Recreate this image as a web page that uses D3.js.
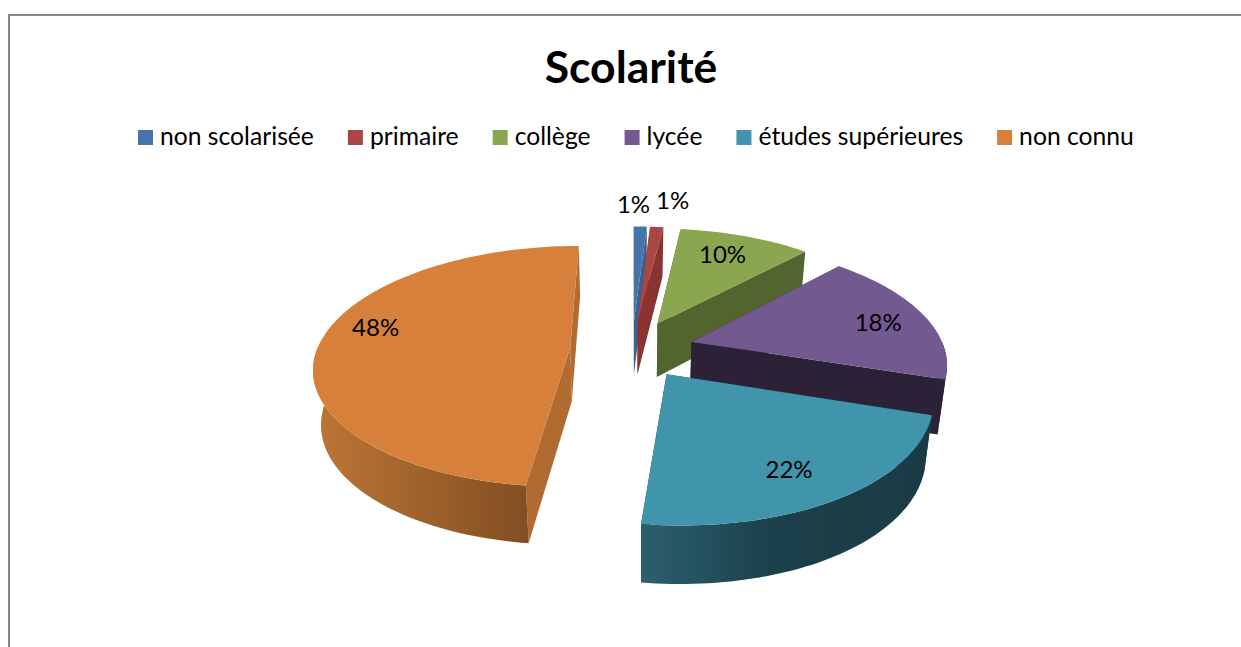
<!DOCTYPE html>
<html>
<head>
<meta charset="utf-8">
<style>
  html, body { margin: 0; padding: 0; background: #fff; overflow: hidden; }
  text { font-family: Lato, "Open Sans", sans-serif; fill: #000; }
</style>
<script src="https://d3js.org/d3.v7.min.js"></script>
</head>
<body>
<script>
const categories = ["non scolarisée", "primaire", "collège", "lycée", "études supérieures", "non connu"];
const values = [1, 1, 10, 18, 22, 48];
const topColors = ["#4674aa", "#aa4644", "#8aa64f", "#725990", "#4095ad", "#d7803c"];
const cutColors = ["#3a6192", "#8a3432", "#53652e", "#2c2238", "#1c404b", "#b16a2f"];
const wallFrom = ["#3a6192", "#8a3432", "#53652e", "#2c2238", "#2b606f", "#bd7636"];
const wallTo = ["#3a6192", "#8a3432", "#53652e", "#2c2238", "#1a3b46", "#824e22"];
// painter order, back to front
const drawOrder = [0, 1, 2, 3, 5, 4];

const width = 1241, height = 647;
const cx = 632, cy = 349;      // pie centre on screen
const rx = 253, ry = 118;      // world unit to pixels
const explode = 0.245;         // how far each slice is pulled out
const persp = 0.16;            // perspective strength
const depth = 54;              // wall height in px
// label shift from a point at 0.7 of the radius
const labelNudge = [[-5, -48], [21, -52], [1, -6], [23, 0], [7, 13], [-20, -14]];

const svg = d3.select("body").append("svg")
    .attr("width", width)
    .attr("height", height);

// frame of the chart, runs off the page on the right and bottom
svg.append("rect")
    .attr("x", 9).attr("y", 15)
    .attr("width", width + 20).attr("height", height + 20)
    .attr("fill", "#fff")
    .attr("stroke", "#868686")
    .attr("stroke-width", 2);

svg.append("text")
    .attr("x", 631)
    .attr("y", 83)
    .attr("text-anchor", "middle")
    .attr("font-size", 44.5)
    .attr("font-weight", 700)
    .text("Scolarité");

// legend, each item placed after the width of the one before
const legend = svg.append("g");
let legendX = 138;
categories.forEach(function(name, i) {
  legend.append("rect")
      .attr("x", legendX).attr("y", 130)
      .attr("width", 15).attr("height", 15)
      .attr("fill", topColors[i]);
  const label = legend.append("text")
      .attr("x", legendX + 22).attr("y", 145)
      .attr("font-size", 24.7)
      .text(name);
  legendX += 22 + label.node().getComputedTextLength() + 34;
});

const pie = d3.pie().sort(null).value(function(d) { return d; });
const slices = pie(values);

// slice local polar coords to screen; z 0 is the top face, 1 the bottom
function project(slice, angle, r, z) {
  const mid = (slice.startAngle + slice.endAngle) / 2;
  const X = explode * Math.sin(mid) + r * Math.sin(angle);
  const Y = -explode * Math.cos(mid) - r * Math.cos(angle);
  const f = 1 / (1 - persp * Y);
  const shrink = 1 - 0.025 * z;
  const lean = Y > 0 ? 5 * Y * Y : 0;
  return [
    cx + X * rx * f * shrink + lean,
    cy + Y * ry * f + z * depth * (1 + 0.07 * Y)
  ];
}

function arcPoints(slice, a0, a1, z) {
  const n = Math.max(4, Math.ceil((a1 - a0) * 40));
  return d3.range(n + 1).map(function(k) {
    return project(slice, a0 + (a1 - a0) * k / n, 1, z);
  });
}

const line = d3.line();
function closed(pts) { return line(pts) + "Z"; }

const defs = svg.append("defs");
slices.forEach(function(s, i) {
  const g = defs.append("linearGradient").attr("id", "wall" + i);
  g.append("stop").attr("offset", "0%").attr("stop-color", wallFrom[i]);
  g.append("stop").attr("offset", i === 4 ? "45%" : "100%").attr("stop-color", i === 4 ? "#1c404b" : wallTo[i]);
  g.append("stop").attr("offset", "100%").attr("stop-color", wallTo[i]);
});

const pieG = svg.append("g");

drawOrder.forEach(function(i) {
  const s = slices[i];
  const g = pieG.append("g");

  [s.startAngle, s.endAngle].forEach(function(angle) {
    g.append("path")
        .attr("d", closed([
          project(s, angle, 0, 0),
          project(s, angle, 1, 0),
          project(s, angle, 1, 1),
          project(s, angle, 0, 1)
        ]))
        .attr("fill", cutColors[i]);
  });

  // only the front half of the rim can be seen
  const a0 = Math.max(s.startAngle, Math.PI / 2);
  const a1 = Math.min(s.endAngle, Math.PI * 3 / 2);
  if (a1 > a0) {
    const rim = arcPoints(s, a0, a1, 0).concat(arcPoints(s, a0, a1, 1).reverse());
    g.append("path").attr("d", closed(rim)).attr("fill", "url(#wall" + i + ")");
  }

  const top = [project(s, s.startAngle, 0, 0)].concat(arcPoints(s, s.startAngle, s.endAngle, 0));
  g.append("path").attr("d", closed(top)).attr("fill", topColors[i]);
});

// data labels
slices.forEach(function(s, i) {
  const mid = (s.startAngle + s.endAngle) / 2;
  const p = project(s, mid, 0.7, 0);
  svg.append("text")
      .attr("x", p[0] + labelNudge[i][0])
      .attr("y", p[1] + labelNudge[i][1])
      .attr("dy", "0.35em")
      .attr("text-anchor", "middle")
      .attr("font-size", 24)
      .text(d3.format(".0%")(s.value / d3.sum(values)));
});
</script>
</body>
</html>
